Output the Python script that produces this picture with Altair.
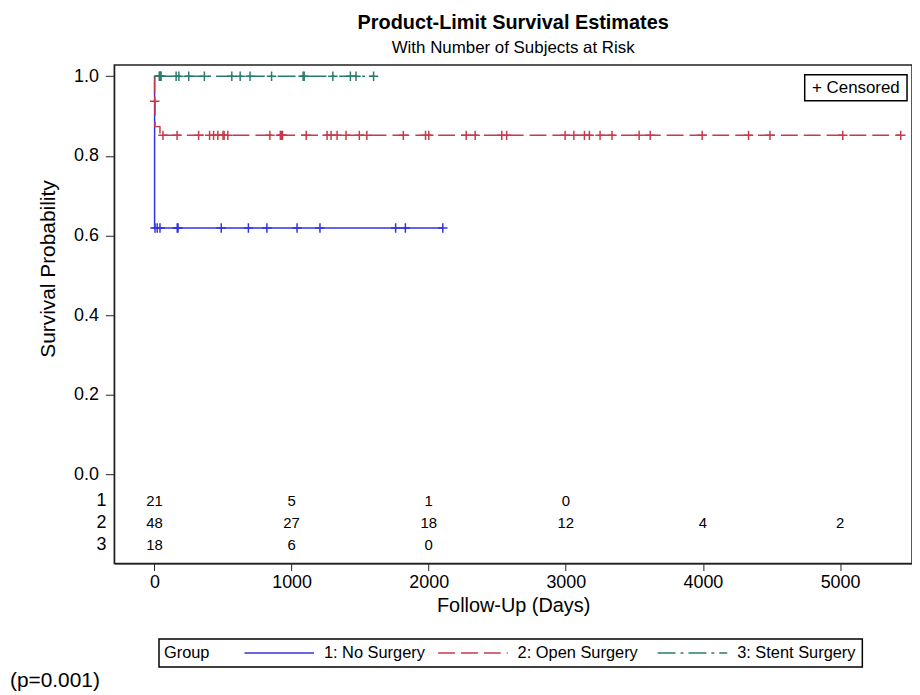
import altair as alt
import pandas as pd

FONT = "Liberation Sans"

groups = ["1: No Surgery", "2: Open Surgery", "3: Stent Surgery"]
colors = ["#3434DC", "#C73A4E", "#2A7B6F"]
dashes = [[1, 0], [17, 6], [18, 5, 3, 5]]

# Kaplan-Meier step curves: time (days) and survival from that time on
t1 = [0, 1, 2103]
s1 = [1.0, 0.619, 0.619]
t2 = [0, 1, 4, 40, 5443]
s2 = [1.0, 0.9375, 0.8736, 0.8517, 0.8517]
t3 = [0, 1598]
s3 = [1.0, 1.0]

# censoring times (days)
c1 = [4, 20, 40, 166, 172, 487, 685, 820, 1040, 1207, 1759, 1830, 2103]
c2 = [2, 62, 165, 322, 402, 431, 462, 500, 508, 535, 842, 918, 926, 934,
      1107, 1259, 1288, 1332, 1397, 1494, 1549, 1815, 1977, 2001, 2274, 2339,
      2533, 2569, 2995, 3059, 3136, 3172, 3250, 3337, 3535, 3616, 3995, 4333,
      4489, 5020, 5443]
c3 = [35, 40, 44, 48, 158, 178, 250, 364, 564, 625, 697, 854, 1084, 1092,
      1301, 1429, 1470, 1598]

# number at risk
risk_times = [0, 1000, 2000, 3000, 4000, 5000]
risk1 = [21, 5, 1, 0]
risk2 = [48, 27, 18, 12, 4, 2]
risk3 = [18, 6, 0]
row_labels = ["1", "2", "3"]

x_ticks = [0, 1000, 2000, 3000, 4000, 5000]
y_ticks = [0.0, 0.2, 0.4, 0.6, 0.8, 1.0]


def km_at(times, surv, t):
    v = surv[0]
    for ti, si in zip(times, surv):
        if ti <= t:
            v = si
    return v


curve_rows, cens_rows, risk_rows = [], [], []
for g, ts, ss, cs in zip(groups, [t1, t2, t3], [s1, s2, s3], [c1, c2, c3]):
    for t, s in zip(ts, ss):
        curve_rows.append({"group": g, "time": t, "surv": s})
    for c in cs:
        cens_rows.append({"group": g, "time": c, "surv": km_at(ts, ss, c)})
for r, vals in zip(row_labels, [risk1, risk2, risk3]):
    for t, n in zip(risk_times, vals):
        risk_rows.append({"row": r, "time": t, "n": str(n)})

curves = pd.DataFrame(curve_rows)
cens = pd.DataFrame(cens_rows)
risk = pd.DataFrame(risk_rows)
rowlab = pd.DataFrame({"row": row_labels})

xscale = alt.Scale(domain=[-293, 5525], nice=False, zero=False)
yscale = alt.Scale(domain=[-0.2244, 1.0287], nice=False, zero=False)
cscale = alt.Scale(domain=groups, range=colors)
dscale = alt.Scale(domain=groups, range=dashes)

xenc = alt.X("time:Q", scale=xscale,
             axis=alt.Axis(values=x_ticks, format="d", title="Follow-Up (Days)", grid=False,
                           labelFontSize=18, titleFontSize=20, tickSize=7,
                           labelPadding=3, titlePadding=4, labelFlush=False))
yenc = alt.Y("surv:Q", scale=yscale,
             axis=alt.Axis(values=y_ticks, format=".1f", title="Survival Probability",
                           grid=False, labelFontSize=18, titleFontSize=21, tickSize=9,
                           labelPadding=7, titleX=-56, titleY=205, labelFlush=False))

lines = alt.Chart(curves).mark_line(interpolate="step-after", strokeWidth=1.5).encode(
    x=xenc, y=yenc,
    color=alt.Color("group:N", scale=cscale, legend=None),
    strokeDash=alt.StrokeDash("group:N", scale=dscale, legend=None),
    detail="group:N",
)

plus = "M-1,0H1M0,-1V1"
points = alt.Chart(cens).mark_point(shape=plus, size=90, filled=False, strokeWidth=1.5,
                                    opacity=1).encode(
    x=alt.X("time:Q", scale=xscale),
    y=alt.Y("surv:Q", scale=yscale),
    color=alt.Color("group:N", scale=cscale, legend=None),
)

rowscale = alt.Scale(type="point", domain=row_labels, range=[439, 483], padding=0)
risk_text = alt.Chart(risk).mark_text(fontSize=15, font=FONT).encode(
    x=alt.X("time:Q", scale=xscale),
    y=alt.Y("row:N", scale=rowscale, axis=None),
    text="n:N",
)
row_text = alt.Chart(rowlab).mark_text(fontSize=18, font=FONT, align="right").encode(
    x=alt.value(-8),
    y=alt.Y("row:N", scale=rowscale, axis=None),
    text="row:N",
)

one = pd.DataFrame({"k": [0]})

# "+ Censored" inset box
box = alt.Chart(one).mark_rect(fill="white", stroke="black", strokeWidth=1.5).encode(
    x=alt.value(695), x2=alt.value(798), y=alt.value(10), y2=alt.value(36))
box_text = alt.Chart(one).mark_text(fontSize=17, font=FONT).encode(
    x=alt.value(746.5), y=alt.value(23), text=alt.value("+ Censored"))

# bottom legend (layout constants only)
LEG_BOX = (45, 753, 578, 606)
LEG_Y = 592
LEG_LINE_X = [131, 326, 547]
LEG_LINE_LEN = 70
LEG_LABEL_GAP = 10

leg_layers = [
    alt.Chart(one).mark_rect(fill="white", stroke="black", strokeWidth=1.5).encode(
        x=alt.value(LEG_BOX[0]), x2=alt.value(LEG_BOX[1]),
        y=alt.value(LEG_BOX[2]), y2=alt.value(LEG_BOX[3])),
    alt.Chart(one).mark_text(fontSize=16.5, font=FONT, align="left").encode(
        x=alt.value(LEG_BOX[0] + 5), y=alt.value(LEG_Y), text=alt.value("Group")),
]
for g, col, d, lx in zip(groups, colors, dashes, LEG_LINE_X):
    leg_layers.append(
        alt.Chart(one).mark_rule(color=col, strokeWidth=1.5, strokeDash=d).encode(
            x=alt.value(lx), x2=alt.value(lx + LEG_LINE_LEN), y=alt.value(LEG_Y)))
    leg_layers.append(
        alt.Chart(one).mark_text(fontSize=16.5, font=FONT, align="left").encode(
            x=alt.value(lx + LEG_LINE_LEN + LEG_LABEL_GAP), y=alt.value(LEG_Y),
            text=alt.value(g)))

pval = alt.Chart(one).mark_text(fontSize=21, font=FONT, align="left",
                                baseline="middle").encode(
    x=alt.value(-105), y=alt.value(620), text=alt.value("(p=0.001)"))

main = alt.layer(lines, points, box, box_text, pval, *leg_layers)
tables = alt.layer(risk_text, row_text)

chart = alt.layer(main, tables).resolve_scale(y="independent").properties(
    width=803, height=502,
    title=alt.Title("Product-Limit Survival Estimates",
                    subtitle="With Number of Subjects at Risk",
                    fontSize=20, subtitleFontSize=17, font=FONT, subtitleFont=FONT,
                    fontWeight="bold", anchor="middle", offset=9, subtitlePadding=7,
                    color="black", subtitleColor="black"),
    autosize=alt.AutoSizeParams(type="none"),
    padding={"left": 107, "top": 55, "right": 0, "bottom": 129},
).configure_view(stroke="#222", strokeWidth=1.5).configure_axis(
    labelFont=FONT, titleFont=FONT, labelColor="black", titleColor="black",
    domainColor="#222", tickColor="#222", titleFontWeight="normal",
)

chart.save("out.html", embed_options={"renderer": "svg", "actions": False})
